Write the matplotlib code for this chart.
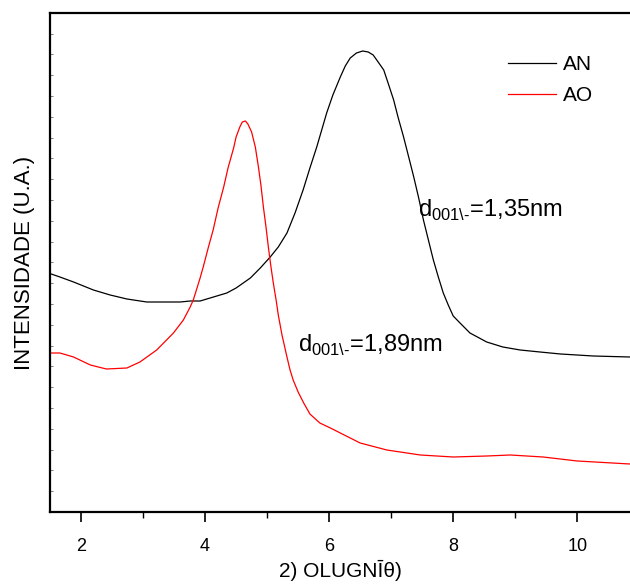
import matplotlib
matplotlib.use("Agg")
import matplotlib.pyplot as plt
from matplotlib.ticker import MultipleLocator, NullFormatter

plt.rcParams['font.family'] = ['Liberation Sans', 'DejaVu Sans']
plt.rcParams['mathtext.fontset'] = 'custom'
plt.rcParams['mathtext.rm'] = 'Liberation Sans'

# AN sample
an_2theta = [1.52, 1.66, 1.88, 2.20, 2.47, 2.74, 3.06, 3.38, 3.60, 3.76, 3.92,
             4.35, 4.50, 4.73, 4.89, 5.05, 5.18, 5.32, 5.45, 5.58, 5.69, 5.80,
             5.96, 6.06, 6.18, 6.26, 6.34, 6.44, 6.54, 6.63, 6.71, 6.79, 6.88,
             6.95, 7.04, 7.11, 7.20, 7.27, 7.36, 7.44, 7.52, 7.60, 7.68, 7.76,
             7.84, 7.92, 8.00, 8.11, 8.27, 8.54, 8.80, 9.08, 9.40, 9.73, 10.26,
             10.85]
an_int = [238, 235, 230, 222, 217, 213, 210, 210, 210, 211, 211,
          219, 224, 234, 244, 255, 265, 279, 299, 322, 344, 365,
          399, 417, 435, 446, 454, 459, 461, 460, 457, 450, 442,
          429, 412, 395, 375, 358, 336, 315, 292, 272, 252, 235,
          219, 207, 196, 189, 179, 170, 165, 162, 160, 158, 156,
          155]

# AO sample
ao_2theta = [1.52, 1.66, 1.88, 2.15, 2.41, 2.74, 2.95, 3.22, 3.49, 3.65, 3.76,
             3.81, 3.92, 3.97, 4.05, 4.13, 4.21, 4.30, 4.37, 4.46, 4.50, 4.56,
             4.60, 4.65, 4.69, 4.75, 4.81, 4.86, 4.90, 4.94, 4.98, 5.02, 5.06,
             5.10, 5.15, 5.18, 5.24, 5.32, 5.37, 5.42, 5.50, 5.59, 5.69, 5.85,
             6.02, 6.18, 6.50, 6.93, 7.47, 8.00, 8.54, 8.92, 9.45, 10.00, 10.85]
ao_int = [159, 159, 155, 147, 143, 144, 150, 162, 179, 192, 205,
          212, 234, 245, 264, 282, 304, 325, 344, 364, 375, 385,
          390, 391, 388, 380, 365, 345, 327, 305, 286, 265, 246,
          229, 210, 197, 177, 155, 142, 132, 120, 109, 98, 89,
          84, 79, 69, 62, 57, 55, 56, 57, 55, 51, 48]

fig = plt.figure(figsize=(6.3, 5.87), dpi=100)
ax = fig.add_axes([50 / 630, 75 / 587, 580 / 630, 499 / 587])

ax.plot(an_2theta, an_int, color='black', lw=0.9, label='AN')
ax.plot(ao_2theta, ao_int, color='red', lw=0.9, label='AO')

ax.set_xlim(1.5, 10.85)
ax.set_ylim(0, 499)

ax.spines['right'].set_visible(False)
for s in ['left', 'top', 'bottom']:
    ax.spines[s].set_linewidth(1.6)

ax.xaxis.set_major_locator(MultipleLocator(2))
ax.xaxis.set_minor_locator(MultipleLocator(1))
ax.tick_params(axis='x', which='major', direction='out', length=7, width=1.2,
               labelsize=13, pad=12)
ax.tick_params(axis='x', which='minor', direction='out', length=4, width=1.0)
ax.yaxis.set_major_locator(MultipleLocator(20.8))
ax.yaxis.set_major_formatter(NullFormatter())
ax.tick_params(axis='y', which='major', direction='in', length=2, width=0.6,
               color='#666666')

ax.set_xlabel('2) OLUGN\u012a\u03b8)', fontsize=15, labelpad=3)
ax.set_ylabel('INTENSIDADE (U.A.)', fontsize=16, labelpad=7)

ax.text(7.44, 295, r'd$_{\mathrm{001\backslash}\text{-}}$=1,35nm', fontsize=17)
ax.text(5.50, 160, r'd$_{\mathrm{001\backslash}\text{-}}$=1,89nm', fontsize=17)

ax.legend(loc='upper left', bbox_to_anchor=(0.79, 0.915), frameon=False,
          fontsize=15, handlelength=2.3, handletextpad=0.35, labelspacing=0.55,
          borderaxespad=0, borderpad=0)

fig.savefig('out.png', dpi=100)
